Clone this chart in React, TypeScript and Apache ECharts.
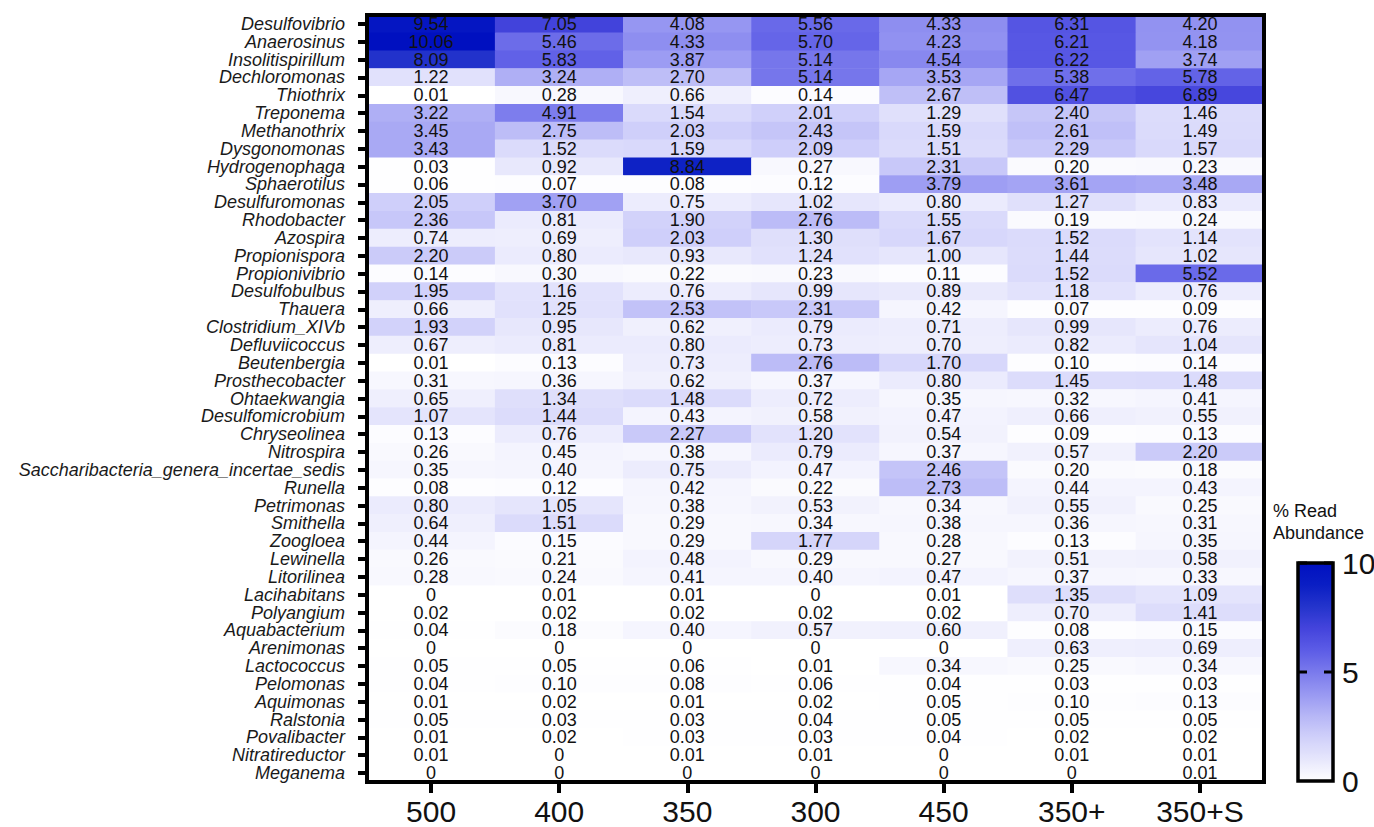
import React, { useEffect, useRef } from "react";
import * as echarts from "echarts";

const columns = ["500", "400", "350", "300", "450", "350+", "350+S"];

const genera = [
  "Desulfovibrio", "Anaerosinus", "Insolitispirillum", "Dechloromonas", "Thiothrix",
  "Treponema", "Methanothrix", "Dysgonomonas", "Hydrogenophaga", "Sphaerotilus",
  "Desulfuromonas", "Rhodobacter", "Azospira", "Propionispora", "Propionivibrio",
  "Desulfobulbus", "Thauera", "Clostridium_XIVb", "Defluviicoccus", "Beutenbergia",
  "Prosthecobacter", "Ohtaekwangia", "Desulfomicrobium", "Chryseolinea", "Nitrospira",
  "Saccharibacteria_genera_incertae_sedis", "Runella", "Petrimonas", "Smithella", "Zoogloea",
  "Lewinella", "Litorilinea", "Lacihabitans", "Polyangium", "Aquabacterium",
  "Arenimonas", "Lactococcus", "Pelomonas", "Aquimonas", "Ralstonia",
  "Povalibacter", "Nitratireductor", "Meganema",
];

// one row per genus, columns in order 500, 400, 350, 300, 450, 350+, 350+S
const abundance: number[][] = [
  [9.54, 7.05, 4.08, 5.56, 4.33, 6.31, 4.20],
  [10.06, 5.46, 4.33, 5.70, 4.23, 6.21, 4.18],
  [8.09, 5.83, 3.87, 5.14, 4.54, 6.22, 3.74],
  [1.22, 3.24, 2.70, 5.14, 3.53, 5.38, 5.78],
  [0.01, 0.28, 0.66, 0.14, 2.67, 6.47, 6.89],
  [3.22, 4.91, 1.54, 2.01, 1.29, 2.40, 1.46],
  [3.45, 2.75, 2.03, 2.43, 1.59, 2.61, 1.49],
  [3.43, 1.52, 1.59, 2.09, 1.51, 2.29, 1.57],
  [0.03, 0.92, 8.84, 0.27, 2.31, 0.20, 0.23],
  [0.06, 0.07, 0.08, 0.12, 3.79, 3.61, 3.48],
  [2.05, 3.70, 0.75, 1.02, 0.80, 1.27, 0.83],
  [2.36, 0.81, 1.90, 2.76, 1.55, 0.19, 0.24],
  [0.74, 0.69, 2.03, 1.30, 1.67, 1.52, 1.14],
  [2.20, 0.80, 0.93, 1.24, 1.00, 1.44, 1.02],
  [0.14, 0.30, 0.22, 0.23, 0.11, 1.52, 5.52],
  [1.95, 1.16, 0.76, 0.99, 0.89, 1.18, 0.76],
  [0.66, 1.25, 2.53, 2.31, 0.42, 0.07, 0.09],
  [1.93, 0.95, 0.62, 0.79, 0.71, 0.99, 0.76],
  [0.67, 0.81, 0.80, 0.73, 0.70, 0.82, 1.04],
  [0.01, 0.13, 0.73, 2.76, 1.70, 0.10, 0.14],
  [0.31, 0.36, 0.62, 0.37, 0.80, 1.45, 1.48],
  [0.65, 1.34, 1.48, 0.72, 0.35, 0.32, 0.41],
  [1.07, 1.44, 0.43, 0.58, 0.47, 0.66, 0.55],
  [0.13, 0.76, 2.27, 1.20, 0.54, 0.09, 0.13],
  [0.26, 0.45, 0.38, 0.79, 0.37, 0.57, 2.20],
  [0.35, 0.40, 0.75, 0.47, 2.46, 0.20, 0.18],
  [0.08, 0.12, 0.42, 0.22, 2.73, 0.44, 0.43],
  [0.80, 1.05, 0.38, 0.53, 0.34, 0.55, 0.25],
  [0.64, 1.51, 0.29, 0.34, 0.38, 0.36, 0.31],
  [0.44, 0.15, 0.29, 1.77, 0.28, 0.13, 0.35],
  [0.26, 0.21, 0.48, 0.29, 0.27, 0.51, 0.58],
  [0.28, 0.24, 0.41, 0.40, 0.47, 0.37, 0.33],
  [0, 0.01, 0.01, 0, 0.01, 1.35, 1.09],
  [0.02, 0.02, 0.02, 0.02, 0.02, 0.70, 1.41],
  [0.04, 0.18, 0.40, 0.57, 0.60, 0.08, 0.15],
  [0, 0, 0, 0, 0, 0.63, 0.69],
  [0.05, 0.05, 0.06, 0.01, 0.34, 0.25, 0.34],
  [0.04, 0.10, 0.08, 0.06, 0.04, 0.03, 0.03],
  [0.01, 0.02, 0.01, 0.02, 0.05, 0.10, 0.13],
  [0.05, 0.03, 0.03, 0.04, 0.05, 0.05, 0.05],
  [0.01, 0.02, 0.03, 0.03, 0.04, 0.02, 0.02],
  [0.01, 0, 0.01, 0.01, 0, 0.01, 0.01],
  [0, 0, 0, 0, 0, 0, 0.01],
];

const scaleTicks = ["10", "5", "0"];
const scaleMin = 0;
const scaleMax = 10;

const FONT = "'Liberation Sans', Arial, Helvetica, sans-serif";

export default function App() {
  const ref = useRef<HTMLDivElement>(null);

  useEffect(() => {
    if (!ref.current) return;
    const chart = echarts.init(ref.current, undefined, { renderer: "svg" });

    const data: [number, number, number][] = [];
    abundance.forEach((row, yi) => {
      row.forEach((v, xi) => data.push([xi, yi, v]));
    });

    const W = 1374;
    const H = 827;
    const gLeft = 367;
    const gRight = 110;
    const gTop = 15;
    const gBottom = 45;

    const barLeft = 1298;
    const barTop = 563;
    const barW = 35;
    const barH = 218;

    const tickY = (t: number) => barTop + barH * (1 - (t - scaleMin) / (scaleMax - scaleMin));

    chart.setOption({
      animation: false,
      backgroundColor: "#ffffff",
      grid: {
        left: gLeft,
        right: gRight,
        top: gTop,
        bottom: gBottom,
        show: false,
      },
      xAxis: {
        type: "category",
        data: columns,
        position: "bottom",
        z: 10,
        axisLine: { show: true, lineStyle: { color: "#000", width: 4 } },
        axisTick: { show: true, alignWithLabel: true, length: 11, lineStyle: { color: "#000", width: 4 } },
        axisLabel: { color: "#111", fontSize: 30, fontFamily: FONT, margin: 14 },
        splitLine: { show: false },
        splitArea: { show: false },
      },
      yAxis: {
        type: "category",
        data: genera,
        inverse: true,
        z: 10,
        axisLine: { show: true, lineStyle: { color: "#000", width: 4 } },
        axisTick: { show: true, alignWithLabel: true, length: 9, lineStyle: { color: "#000", width: 4 } },
        axisLabel: {
          color: "#1a1a1a",
          fontSize: 18,
          fontStyle: "italic",
          fontFamily: FONT,
          margin: 22,
          interval: 0,
        },
        splitLine: { show: false },
        splitArea: { show: false },
      },
      visualMap: {
        type: "continuous",
        min: scaleMin,
        max: scaleMax,
        calculable: false,
        orient: "vertical",
        left: barLeft,
        top: barTop,
        padding: 0,
        itemWidth: barW,
        itemHeight: barH,
        text: ["", ""],
        showLabel: false,
        inRange: {
          color: [
            "#ffffff", "#e6e6fc", "#d0d0fa", "#b6b6f6", "#9898f2", "#7a7aec",
            "#5c5ce6", "#4444dc", "#2434cc", "#0a1ec4", "#0010c0",
          ],
        },
      },
      series: [
        {
          type: "heatmap",
          data,
          z: 2,
          itemStyle: { borderWidth: 0 },
          label: {
            show: true,
            color: "#111",
            fontSize: 18,
            fontFamily: FONT,
            formatter: (p: any) => {
              const v = p.value[2] as number;
              return v === 0 ? "0" : v.toFixed(2);
            },
          },
          emphasis: { disabled: true },
        },
      ],
      graphic: [
        {
          type: "rect",
          shape: { x: gLeft, y: gTop, width: W - gLeft - gRight, height: H - gTop - gBottom },
          style: { fill: "none", stroke: "#000", lineWidth: 4 },
          z: 100,
          silent: true,
        },
        {
          type: "rect",
          shape: { x: barLeft, y: barTop, width: barW, height: barH },
          style: { fill: "none", stroke: "#000", lineWidth: 3.5 },
          z: 100,
        },
        ...[5, 10].flatMap((t) => [
          {
            type: "line",
            shape: { x1: barLeft, y1: tickY(t), x2: barLeft + 9, y2: tickY(t) },
            style: { stroke: "#000", lineWidth: 3 },
            z: 100,
          },
          {
            type: "line",
            shape: { x1: barLeft + barW - 9, y1: tickY(t), x2: barLeft + barW, y2: tickY(t) },
            style: { stroke: "#000", lineWidth: 3 },
            z: 100,
          },
        ]),
        ...scaleTicks.map((t) => ({
          type: "text",
          x: barLeft + barW + 9,
          y: tickY(Number(t)),
          style: {
            text: t,
            fill: "#111",
            fontSize: 30,
            fontFamily: FONT,
            textVerticalAlign: "middle",
            verticalAlign: "middle",
          },
          z: 100,
        })),
        {
          type: "text",
          x: 1273,
          y: 500,
          style: {
            text: "% Read\nAbundance",
            fill: "#111",
            fontSize: 18,
            lineHeight: 22,
            fontFamily: FONT,
          },
        },
      ],
    });

    return () => chart.dispose();
  }, []);

  return (
    <div
      ref={ref}
      style={{ position: "fixed", left: 0, top: 0, width: 1374, height: 827, background: "#fff" }}
    />
  );
}
